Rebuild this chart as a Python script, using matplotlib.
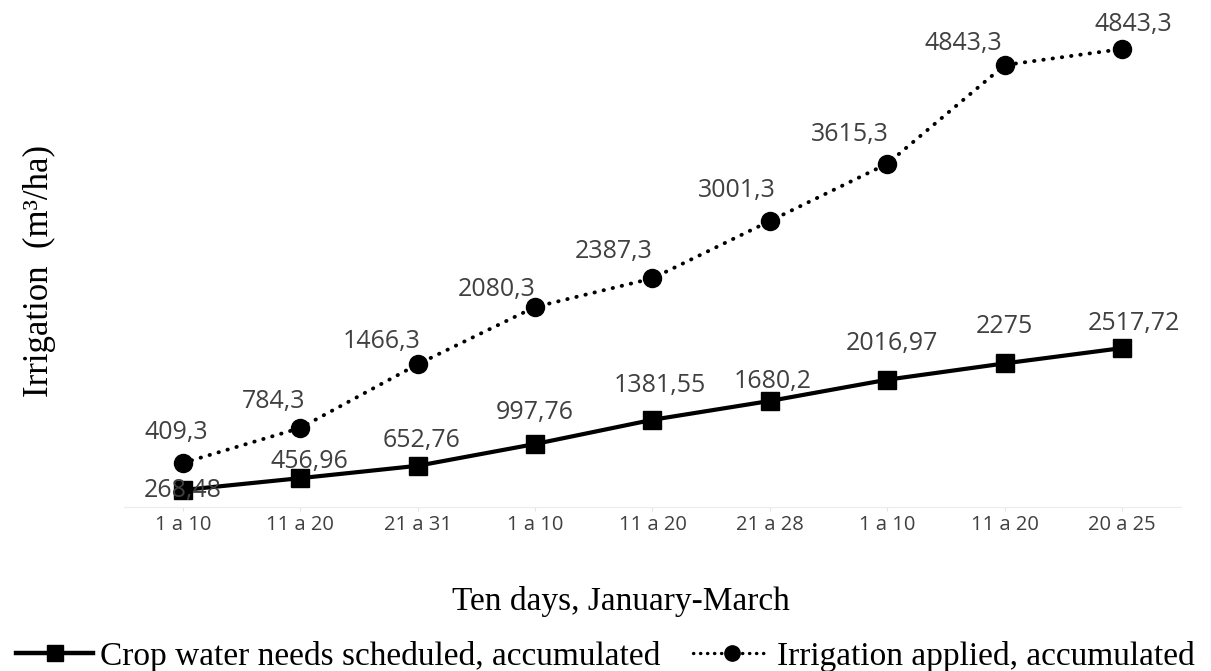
import matplotlib
matplotlib.use("Agg")
import matplotlib.pyplot as plt

# Data
categories = ["1 a 10", "11 a 20", "21 a 31", "1 a 10", "11 a 20", "21 a 28", "1 a 10", "11 a 20", "20 a 25"]
crop_needs = [268.48, 456.96, 652.76, 997.76, 1381.55, 1680.2, 2016.97, 2275, 2517.72]
# the 8th point sits a bit lower in the picture than its label says
irrigation_applied = [409.3, 784.3, 1466.3, 2080.3, 2387.3, 3001.3, 3615.3, 4672, 4843.3]
crop_labels = ["268,48", "456,96", "652,76", "997,76", "1381,55", "1680,2", "2016,97", "2275", "2517,72"]
irr_labels = ["409,3", "784,3", "1466,3", "2080,3", "2387,3", "3001,3", "3615,3", "4843,3", "4843,3"]

# label offsets in pixels (dx, dy)
crop_offsets = [(0, 0), (9, 17), (4, 25), (0, 32), (7, 34), (3, 19), (5, 36), (0, 37), (12, 25)]
irr_offsets = [(-6, 31), (-27, 26), (-36, 23), (-38, 17), (-39, 27), (-33, 30), (-37, 29), (-41, 22), (11, 25)]

x = list(range(len(categories)))

fig = plt.figure(figsize=(12.11, 6.71), dpi=100)
ax = fig.add_axes([0.1024, 0.2444, 0.8728, 0.7109])
ax2 = ax.twinx()

ax.plot(x, crop_needs, color="black", lw=3.0, marker="s", markersize=13, zorder=3)
ax2.plot(x, irrigation_applied, color="black", lw=2.8, ls=(0, (0.1, 2.3)), dash_capstyle="round",
         marker="o", markersize=13, zorder=3)

ax.set_xlim(-0.5, 8.5)
ax.set_ylim(0, 7556)
ax2.set_ylim(-62, 5047)

label_font = dict(family="Open Sans", size=18, color="#404040")
for xi, v, t, (dx, dy) in zip(x, crop_needs, crop_labels, crop_offsets):
    ax.annotate(t, (xi, v), xytext=(dx, dy), textcoords="offset pixels",
                ha="center", va="center", zorder=4, **label_font)
for xi, v, t, (dx, dy) in zip(x, irrigation_applied, irr_labels, irr_offsets):
    ax2.annotate(t, (xi, v), xytext=(dx, dy), textcoords="offset pixels",
                 ha="center", va="center", zorder=4, **label_font)

for a in (ax, ax2):
    for s in ["top", "right", "left"]:
        a.spines[s].set_visible(False)
    a.set_yticks([])
ax2.spines["bottom"].set_visible(False)
ax.spines["bottom"].set_color("#ececec")

ax.set_xticks(x)
ax.set_xticklabels(categories, fontfamily="Open Sans", fontsize=14.5, color="#404040")
ax.tick_params(axis="x", length=3, color="#e4e4e4", pad=3)

ax.set_xlabel("Ten days, January-March", fontfamily="Liberation Serif", fontsize=24)
ax.xaxis.set_label_coords(0.47, -0.165)
fig.text(0.033, 0.596, "Irrigation  (m³/ha)", rotation=90, ha="center", va="center",
         fontfamily="Liberation Serif", fontsize=25)

h1, = ax.plot([], [], color="black", lw=3.2, marker="s", markersize=11)
h2, = ax.plot([], [], color="black", lw=2.4, ls=(0, (0.1, 2.0)), dash_capstyle="round",
              marker="o", markersize=11)
fig.legend([h1, h2], ["Crop water needs scheduled, accumulated", "Irrigation applied, accumulated"],
           loc="center", bbox_to_anchor=(0.5, 0.022), ncol=2, frameon=False,
           prop=dict(family="Liberation Serif", size=24), handlelength=2.3,
           handletextpad=0.2, columnspacing=1.0, borderpad=0, borderaxespad=0)

fig.savefig("out.png", dpi=100)
